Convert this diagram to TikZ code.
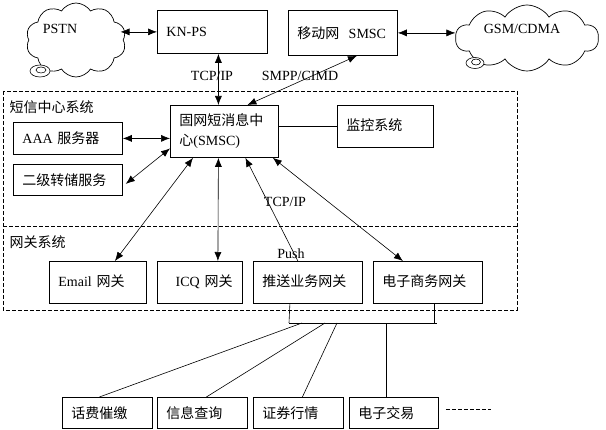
\documentclass[tikz,border=0pt]{standalone}
\usepackage{fontspec}
\setmainfont{Liberation Serif}
\newfontfamily\cjk{Noto Sans CJK SC}
\usepackage{tikz}
\usetikzlibrary{shapes.symbols, arrows.meta}
\tikzstyle{box}=[draw, line width=0.8pt, align=left, inner xsep=9pt, inner ysep=0pt, anchor=north west]
\tikzstyle{nube}=[draw, line width=0.7pt, cloud, cloud puffs=10, cloud puff arc=115, cloud ignores aspect, inner sep=0pt]
\tikzstyle{flecha}=[line width=0.6pt, {Latex[length=9pt,width=7pt]}-{Latex[length=9pt,width=7pt]}]

\begin{document}
\begin{tikzpicture}[x=1pt, y=-1pt, font=\fontsize{14}{20}\selectfont]
        \useasboundingbox (0,0) rectangle (606,430);
        %% Redes externas
        \node[nube, minimum width=100pt, minimum height=74pt] (pstn) at (76,40) {};
        \node (pstnt) at (60,29) {PSTN};
        \draw[line width=0.6pt, fill=white] (40,71) ellipse (10pt and 6pt);
        \draw[line width=0.6pt] (41,70) ellipse (5pt and 3pt);
        \node[nube, minimum width=143pt, minimum height=66pt] (gsm) at (527,38) {};
        \node (gsmt) at (522,29) {GSM/CDMA};
        \draw[line width=0.6pt, fill=white] (475,63) ellipse (9pt and 5.5pt);
        \draw[line width=0.6pt] (476,62) ellipse (4.5pt and 3pt);
        \node[box, text width=92pt, minimum height=43pt] (knps) at (157,10) {KN-PS};
        \node[box, text width=91pt, minimum height=45pt] (msmsc) at (288,10) {{\cjk 移动网}\ \ SMSC};
        \draw[flecha] ([xshift=-3pt]knps.west -| pstn.east) -- (knps.west);
        \draw[flecha] (msmsc.east) -- (msmsc.east -| gsm.west);

        %% Sistema del centro
        \draw[line width=0.7pt, dash pattern=on 4pt off 2pt] (3,91) rectangle (517,310);
        \draw[line width=0.7pt, dash pattern=on 4pt off 2pt] (3,226) -- (517,226);
        \node[anchor=west] (centro) at (6,107) {\cjk 短信中心系统};
        \node[anchor=west] (pasarela) at (6,242) {\cjk 网关系统};
        \node[box, text width=90pt, minimum height=52pt, inner xsep=9pt] (smsc) at (170,105) {{\cjk 固网短消息中}\\{\cjk 心}(SMSC)};
        \node[box, text width=91pt, minimum height=32pt] (aaa) at (13,122) {AAA {\cjk 服务器}};
        \node[box, text width=91pt, minimum height=31pt] (ejzc) at (13,164) {\cjk 二级转储服务};
        \node[box, text width=78pt, minimum height=42pt] (jk) at (337,105) {\raisebox{4pt}{\cjk 监控系统}};
        \draw[flecha] ([xshift=6pt]knps.south) -- ([xshift=-6pt]smsc.north);
        \draw[flecha] ([xshift=14pt]msmsc.south) -- ([xshift=23pt]smsc.north);
        \node (tcp1) at (212,76) {TCP/IP};
        \node (smpp) at (300,76) {SMPP/CIMD};
        \draw[flecha] (aaa.east) -- (aaa.east -| smsc.west);
        \draw[flecha] ([xshift=3pt,yshift=-4pt]ejzc.east) -- ([yshift=-17pt]smsc.west);
        \draw[line width=0.6pt] (smsc.east |- jk.west) -- (jk.west);

        %% Pasarelas
        \node[box, text width=79pt, minimum height=42pt] (email) at (49,261) {\raisebox{4pt}{Email {\cjk 网关}}};
        \node[box, text width=67pt, minimum height=42pt, inner xsep=9pt] (icq) at (157,261) {\raisebox{4pt}{\ \ ICQ {\cjk 网关}}};
        \node[box, text width=91pt, minimum height=42pt] (push) at (253,261) {\raisebox{4pt}{\cjk 推送业务网关}};
        \node[box, text width=91pt, minimum height=42pt] (ec) at (373,261) {\raisebox{4pt}{\cjk 电子商务网关}};
        \draw[flecha] ([xshift=23pt]smsc.south west) -- ([xshift=17pt]email.north);
        \draw[flecha] ([xshift=-6pt]smsc.south) -- ([xshift=18pt]icq.north);
        \draw[line width=0.6pt, {Latex[length=9pt,width=7pt]}-] ([xshift=21pt]smsc.south) -- ([xshift=-10pt]push.north);
        \draw[flecha] ([xshift=-6pt]smsc.south east) -- ([xshift=-25pt]ec.north);
        \node (tcp2) at (285,202) {TCP/IP};
        \node (pusht) at (291,254) {Push};

        %% Servicios
        \coordinate (busl) at (289,323);
        \coordinate (busr) at (437,323);
        \node[box, text width=72pt, minimum height=31pt] (hf) at (62,397) {\cjk 话费催缴};
        \node[box, text width=72pt, minimum height=31pt] (xx) at (157,397) {\cjk 信息查询};
        \node[box, text width=72pt, minimum height=31pt] (zq) at (253,397) {\cjk 证券行情};
        \node[box, text width=71pt, minimum height=31pt] (dz) at (349,397) {\cjk 电子交易};
        \draw[line width=0.6pt] (busl) -- (busr);
        \draw[line width=0.6pt] ([xshift=-18pt]push.south) -- (busl);
        \draw[line width=0.6pt] ([xshift=6pt]ec.south) -- ([xshift=6pt]ec.south |- busr);
        \draw[line width=0.6pt] ([xshift=-8pt]hf.north) -- ([xshift=13pt]busl);
        \draw[line width=0.6pt] ([xshift=4pt]xx.north) -- ([xshift=36pt]busl);
        \draw[line width=0.6pt] ([xshift=4pt]zq.north) -- ([xshift=48pt]busl);
        \draw[line width=0.6pt] ([xshift=-8pt]dz.north) -- ([xshift=-8pt]dz.north |- busl);
        \draw[line width=0.6pt, dash pattern=on 4pt off 2pt] ([xshift=7pt,yshift=4pt]dz.east) -- ++(45,0);
    \end{tikzpicture}
\end{document}
